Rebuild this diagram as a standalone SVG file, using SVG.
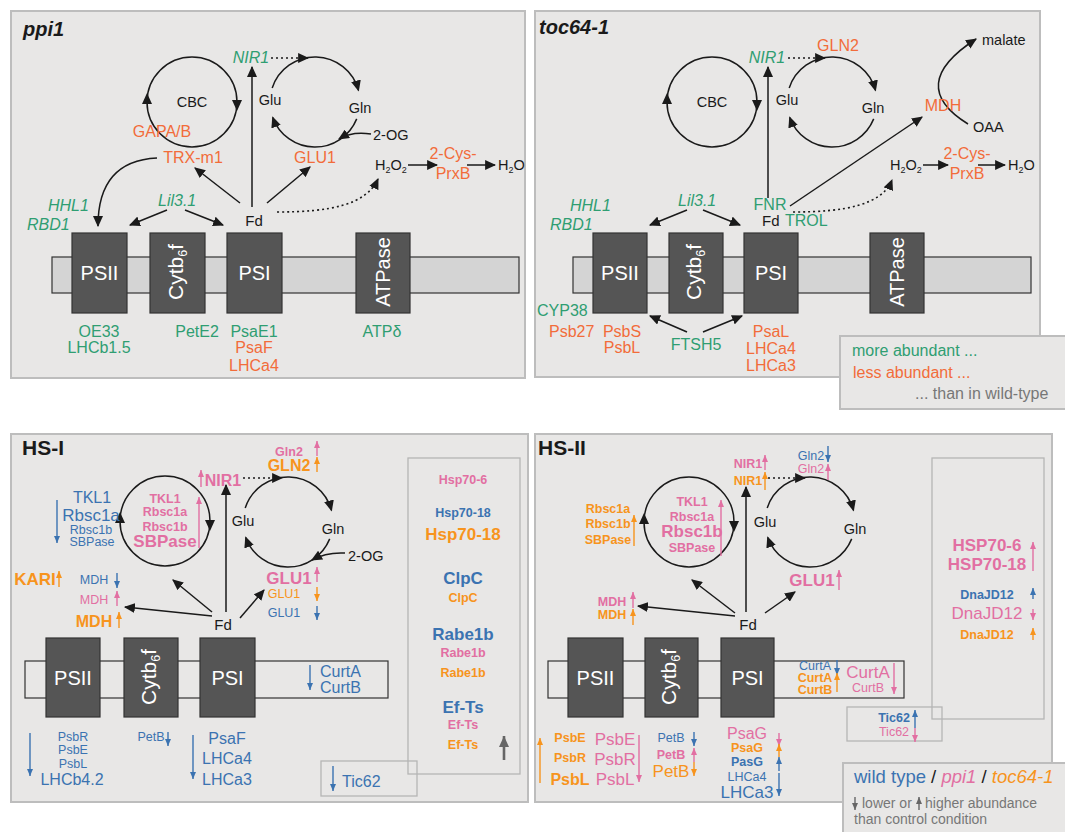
<svg xmlns="http://www.w3.org/2000/svg" width="1065" height="832" viewBox="0 0 1065 832">
<defs>
<style>
text{font-family:"Liberation Sans",Arial,sans-serif}
.pn{fill:#e8e7e6;stroke:#bdbdbd;stroke-width:2}
.ib{fill:none;stroke:#b5b5b5;stroke-width:1.3}
.bx{fill:#555;stroke:#333;stroke-width:1.2}
.mem{fill:#d4d4d4;stroke:#333;stroke-width:1.2}
.mem2{fill:none;stroke:#333;stroke-width:1.2}
.ln{stroke:#1a1a1a;stroke-width:1.5;fill:none;marker-end:url(#ah)}
.cy{stroke:#1a1a1a;stroke-width:1.5;fill:none}
.dt{stroke:#1a1a1a;stroke-width:1.6;fill:none;stroke-dasharray:2 3;marker-end:url(#ah)}
.hd{fill:#1a1a1a}
.g{fill:#2f9e72}.o{fill:#f26c3a}.b{fill:#3b73b1}.p{fill:#e26fa2}.a{fill:#f7941d}.k{fill:#1a1a1a}.w{fill:#fff}.gr{fill:#777}
.bd{font-weight:bold}.it{font-style:italic}.m{text-anchor:middle}
.s9{font-size:9px}.s12{font-size:12.5px}.s14{font-size:14.5px}.s15{font-size:15px}.s16{font-size:16px}.s17{font-size:17px}.s20{font-size:20px}.s21{font-size:21px}
.ab{stroke:#3b73b1;stroke-width:1.4;marker-end:url(#mb)}
.ap{stroke:#e26fa2;stroke-width:1.4;marker-end:url(#mp)}
.ao{stroke:#f7941d;stroke-width:1.4;marker-end:url(#mo)}
.ag{stroke:#666;stroke-width:1.4;marker-end:url(#mg)}
.agL{stroke:#666;stroke-width:2.6;marker-end:url(#mgL)}
</style>
<marker id="ah" viewBox="0 0 10 10" refX="9" refY="5" markerWidth="11" markerHeight="10" markerUnits="userSpaceOnUse" orient="auto" preserveAspectRatio="none"><path d="M0,0L10,5L0,10z" fill="#1a1a1a"/></marker>
<marker id="mb" viewBox="0 0 10 10" refX="10" refY="5" markerWidth="7" markerHeight="6" markerUnits="userSpaceOnUse" orient="auto" preserveAspectRatio="none"><path d="M0,0L10,5L0,10z" fill="#3b73b1"/></marker>
<marker id="mp" viewBox="0 0 10 10" refX="10" refY="5" markerWidth="7" markerHeight="6" markerUnits="userSpaceOnUse" orient="auto" preserveAspectRatio="none"><path d="M0,0L10,5L0,10z" fill="#e26fa2"/></marker>
<marker id="mo" viewBox="0 0 10 10" refX="10" refY="5" markerWidth="7" markerHeight="6" markerUnits="userSpaceOnUse" orient="auto" preserveAspectRatio="none"><path d="M0,0L10,5L0,10z" fill="#f7941d"/></marker>
<marker id="mg" viewBox="0 0 10 10" refX="10" refY="5" markerWidth="7" markerHeight="6" markerUnits="userSpaceOnUse" orient="auto" preserveAspectRatio="none"><path d="M0,0L10,5L0,10z" fill="#666"/></marker>
<marker id="mgL" viewBox="0 0 10 10" refX="10" refY="5" markerWidth="11" markerHeight="10" markerUnits="userSpaceOnUse" orient="auto" preserveAspectRatio="none"><path d="M0,0L10,5L0,10z" fill="#666"/></marker>
</defs>

<!-- ================= PANEL ppi1 ================= -->
<g id="panel-ppi1">
<rect class="pn" x="11" y="11" width="514" height="367"/>
<text x="23" y="36" class="s20 bd it k">ppi1</text>
</g>
<g id="ppi1-cbc">
<circle class="cy" cx="192" cy="102" r="45"/>
<polygon class="hd" points="147,93 142,104 152,104"/>
<polygon class="hd" points="237,111 232,100 242,100"/>
<text x="192" y="107" class="s14 m k">CBC</text>
</g>
<g id="ppi1-glucycle">
<path class="cy" d="M272.2,88.1 A45,45 0 0 1 358.5,90.4" marker-end="url(#ah)"/>
<path class="cy" d="M356.7,118.9 A45,45 0 0 1 272.7,117.4" marker-end="url(#ah)"/>
<text x="270" y="105" class="s14 m k">Glu</text>
<text x="360" y="113" class="s14 m k">Gln</text>
<text x="373" y="140" class="s14 k">2-OG</text>
</g>
<g id="ppi1-labels">
<text x="162" y="137" class="s16 m o">GAPA/B</text>
<text x="193" y="163" class="s16 m o">TRX-m1</text>
<text x="251" y="63" class="s16 m g it">NIR1</text>
<text x="315" y="163" class="s16 m o">GLU1</text>
<text x="375" y="170" class="s14 k">H<tspan class="s9" dy="3">2</tspan><tspan dy="-3">O</tspan><tspan class="s9" dy="3">2</tspan></text>
<text x="453" y="159" class="s16 m o">2-Cys-</text>
<text x="453" y="179" class="s16 m o">PrxB</text>
<text x="498" y="170" class="s14 k">H<tspan class="s9" dy="3">2</tspan><tspan dy="-3">O</tspan></text>
<text x="254" y="226" class="s15 m k">Fd</text>
<text x="48" y="211" class="s16 g it">HHL1</text>
<text x="27" y="230" class="s16 g it">RBD1</text>
<text x="158" y="206" class="s16 g it">Lil3.1</text>
</g>
<g id="ppi1-membrane">
<rect class="mem" x="52" y="257" width="467" height="36"/>
<rect class="bx" x="72" y="233" width="55" height="80"/>
<rect class="bx" x="150" y="233" width="55" height="80"/>
<rect class="bx" x="227" y="233" width="55" height="80"/>
<rect class="bx" x="356" y="233" width="54" height="80"/>
<text x="99.5" y="280" class="s20 m w">PSII</text>
<text transform="translate(183,272) rotate(-90)" class="s21 m w">Cytb<tspan class="s12" dy="4">6</tspan><tspan dy="-4">f</tspan></text>
<text x="254.5" y="280" class="s20 m w">PSI</text>
<text transform="translate(390,272) rotate(-90)" class="s20 m w">ATPase</text>
</g>
<g id="ppi1-below">
<text x="99" y="337" class="s16 m g">OE33</text>
<text x="99" y="353" class="s16 m g">LHCb1.5</text>
<text x="197" y="337" class="s16 m g">PetE2</text>
<text x="254" y="337" class="s16 m g">PsaE1</text>
<text x="254" y="353" class="s16 m o">PsaF</text>
<text x="254" y="371" class="s16 m o">LHCa4</text>
<text x="382" y="337" class="s16 m g">ATPδ</text>
</g>

<!-- ================= PANEL toc64-1 ================= -->
<g id="panel-toc">
<rect class="pn" x="535" y="11" width="505" height="366"/>
<text x="539" y="34" class="s20 bd it k">toc64-1</text>
</g>
<g id="toc-cbc">
<circle class="cy" cx="712" cy="102" r="45"/>
<polygon class="hd" points="667,93 662,104 672,104"/>
<polygon class="hd" points="757,111 752,100 762,100"/>
<text x="712" y="107" class="s14 m k">CBC</text>
</g>
<g id="toc-glucycle">
<path class="cy" d="M789.2,88.1 A45,45 0 0 1 875.5,90.4" marker-end="url(#ah)"/>
<path class="cy" d="M873.7,118.9 A45,45 0 0 1 789.7,117.4" marker-end="url(#ah)"/>
<text x="787" y="105" class="s14 m k">Glu</text>
<text x="873" y="113" class="s14 m k">Gln</text>
</g>
<g id="toc-mdh">
<path class="cy" d="M968,124 Q905,85 976,39" marker-end="url(#ah)"/>
<text x="982" y="45" class="s14 k">malate</text>
<text x="973" y="132" class="s14 k">OAA</text>
<text x="943" y="111" class="s16 m o">MDH</text>
</g>
<g id="toc-labels">
<text x="767" y="63" class="s16 m g it">NIR1</text>
<text x="838" y="51" class="s16 m o">GLN2</text>
<text x="890" y="170" class="s14 k">H<tspan class="s9" dy="3">2</tspan><tspan dy="-3">O</tspan><tspan class="s9" dy="3">2</tspan></text>
<text x="967" y="159" class="s16 m o">2-Cys-</text>
<text x="967" y="179" class="s16 m o">PrxB</text>
<text x="1008" y="170" class="s14 k">H<tspan class="s9" dy="3">2</tspan><tspan dy="-3">O</tspan></text>
<text x="770" y="210" class="s16 m g">FNR</text>
<text x="762" y="226" class="s15 k">Fd</text>
<text x="785" y="226" class="s16 g">TROL</text>
<text x="570" y="211" class="s16 g it">HHL1</text>
<text x="550" y="230" class="s16 g it">RBD1</text>
<text x="678" y="206" class="s16 g it">Lil3.1</text>
</g>
<g id="toc-membrane">
<rect class="mem" x="573" y="257" width="458" height="36"/>
<rect class="bx" x="593" y="233" width="54" height="80"/>
<rect class="bx" x="669" y="233" width="54" height="80"/>
<rect class="bx" x="744" y="233" width="54" height="80"/>
<rect class="bx" x="870" y="233" width="54" height="80"/>
<text x="620" y="280" class="s20 m w">PSII</text>
<text transform="translate(701,272) rotate(-90)" class="s21 m w">Cytb<tspan class="s12" dy="4">6</tspan><tspan dy="-4">f</tspan></text>
<text x="771" y="280" class="s20 m w">PSI</text>
<text transform="translate(904,272) rotate(-90)" class="s20 m w">ATPase</text>
</g>
<g id="toc-below">
<text x="537" y="316" class="s16 g">CYP38</text>
<text x="549" y="337" class="s16 o">Psb27</text>
<text x="622" y="337" class="s16 m o">PsbS</text>
<text x="622" y="353" class="s16 m o">PsbL</text>
<text x="696" y="350" class="s16 m g">FTSH5</text>
<text x="771" y="337" class="s16 m o">PsaL</text>
<text x="771" y="354" class="s16 m o">LHCa4</text>
<text x="771" y="371" class="s16 m o">LHCa3</text>
</g>

<!-- ================= PANEL HS-I ================= -->
<g id="panel-hs1">
<rect class="pn" x="11" y="434" width="517" height="368"/>
<text x="22" y="455" class="s21 bd k">HS-I</text>
</g>
<g id="hs1-cbc">
<circle class="cy" cx="165" cy="521" r="45"/>
<polygon class="hd" points="120,512 115,523 125,523"/>
<polygon class="hd" points="210,531 205,520 215,520"/>
<text x="165" y="503" class="s12 m p bd">TKL1</text>
<text x="165" y="516" class="s12 m p bd">Rbsc1a</text>
<text x="165" y="531" class="s12 m p bd">Rbsc1b</text>
<text x="165" y="547" class="s17 m p bd">SBPase</text>
</g>
<g id="hs1-cbc-left">
<text x="92" y="503" class="s16 m b">TKL1</text>
<text x="91" y="521" class="s17 m b">Rbsc1a</text>
<text x="91" y="534" class="s12 m b">Rbsc1b</text>
<text x="92" y="546" class="s12 m b">SBPase</text>
</g>
<g id="hs1-glucycle">
<path class="cy" d="M245.2,508.1 A45,45 0 0 1 331.5,510.4" marker-end="url(#ah)"/>
<path class="cy" d="M329.7,538.9 A45,45 0 0 1 245.7,537.4" marker-end="url(#ah)"/>
<text x="243" y="526" class="s14 m k">Glu</text>
<text x="333" y="534" class="s14 m k">Gln</text>
<text x="348" y="561" class="s14 k">2-OG</text>
</g>
<g id="hs1-labels">
<text x="223" y="486" class="s16 m p bd">NIR1</text>
<text x="289" y="456" class="s12 m p bd">Gln2</text>
<text x="289" y="471" class="s16 m a bd">GLN2</text>
<text x="289" y="584" class="s17 m p bd">GLU1</text>
<text x="284" y="598" class="s12 m a">GLU1</text>
<text x="284" y="617" class="s12 m b">GLU1</text>
<text x="35" y="585" class="s17 m a bd">KARI</text>
<text x="94" y="584" class="s12 m b">MDH</text>
<text x="94" y="604" class="s12 m p">MDH</text>
<text x="94" y="627" class="s16 m a bd">MDH</text>
<text x="223" y="630" class="s15 m k">Fd</text>
</g>
<g id="hs1-membrane">
<rect class="mem2" x="25" y="661" width="363" height="37"/>
<rect class="bx" x="46" y="638" width="54" height="79"/>
<rect class="bx" x="124" y="638" width="54" height="79"/>
<rect class="bx" x="200" y="638" width="55" height="79"/>
<text x="73" y="685" class="s20 m w">PSII</text>
<text transform="translate(156,677) rotate(-90)" class="s21 m w">Cytb<tspan class="s12" dy="4">6</tspan><tspan dy="-4">f</tspan></text>
<text x="227.5" y="685" class="s20 m w">PSI</text>
<text x="320" y="677" class="s16 b">CurtA</text>
<text x="320" y="693" class="s16 b">CurtB</text>
</g>
<g id="hs1-below">
<text x="73" y="741" class="s12 m b">PsbR</text>
<text x="73" y="754" class="s12 m b">PsbE</text>
<text x="73" y="768" class="s12 m b">PsbL</text>
<text x="72" y="785" class="s16 m b">LHCb4.2</text>
<text x="151" y="741" class="s12 m b">PetB</text>
<text x="227" y="744" class="s16 m b">PsaF</text>
<text x="227" y="764" class="s16 m b">LHCa4</text>
<text x="227" y="785" class="s16 m b">LHCa3</text>
</g>
<g id="hs1-tic62">
<rect class="ib" x="321" y="761" width="96" height="35"/>
<text x="342" y="787" class="s16 b">Tic62</text>
</g>
<g id="hs1-box">
<rect class="ib" x="408" y="458" width="112" height="316"/>
<text x="463" y="484" class="s12 m p bd">Hsp70-6</text>
<text x="463" y="517" class="s12 m b bd">Hsp70-18</text>
<text x="463" y="540" class="s17 m a bd">Hsp70-18</text>
<text x="463" y="584" class="s17 m b bd">ClpC</text>
<text x="463" y="602" class="s12 m a bd">ClpC</text>
<text x="463" y="640" class="s17 m b bd">Rabe1b</text>
<text x="463" y="657" class="s12 m p bd">Rabe1b</text>
<text x="463" y="677" class="s12 m a bd">Rabe1b</text>
<text x="463" y="713" class="s17 m b bd">Ef-Ts</text>
<text x="463" y="729" class="s12 m p bd">Ef-Ts</text>
<text x="463" y="749" class="s12 m a bd">Ef-Ts</text>
</g>

<!-- ================= PANEL HS-II ================= -->
<g id="panel-hs2">
<rect class="pn" x="535" y="434" width="517" height="368"/>
<text x="538" y="455" class="s21 bd k">HS-II</text>
</g>
<g id="hs2-cbc">
<circle class="cy" cx="689" cy="522" r="45"/>
<polygon class="hd" points="644,513 639,524 649,524"/>
<polygon class="hd" points="734,532 729,521 739,521"/>
<text x="692" y="506" class="s12 m p bd">TKL1</text>
<text x="692" y="521" class="s12 m p bd">Rbsc1a</text>
<text x="692" y="537" class="s17 m p bd">Rbsc1b</text>
<text x="692" y="552" class="s12 m p bd">SBPase</text>
</g>
<g id="hs2-cbc-left">
<text x="608" y="513" class="s12 m a bd">Rbsc1a</text>
<text x="608" y="528" class="s12 m a bd">Rbsc1b</text>
<text x="608" y="544" class="s12 m a bd">SBPase</text>
</g>
<g id="hs2-glucycle">
<path class="cy" d="M767.2,508.1 A45,45 0 0 1 853.5,510.4" marker-end="url(#ah)"/>
<path class="cy" d="M851.7,538.9 A45,45 0 0 1 767.7,537.4" marker-end="url(#ah)"/>
<text x="765" y="527" class="s14 m k">Glu</text>
<text x="855" y="534" class="s14 m k">Gln</text>
</g>
<g id="hs2-labels">
<text x="748" y="468" class="s12 m p bd">NIR1</text>
<text x="748" y="485" class="s12 m a bd">NIR1</text>
<text x="811" y="460" class="s12 m b">Gln2</text>
<text x="811" y="473" class="s12 m p">Gln2</text>
<text x="812" y="586" class="s17 m p bd">GLU1</text>
<text x="612" y="606" class="s12 m p bd">MDH</text>
<text x="612" y="619" class="s12 m a bd">MDH</text>
<text x="748" y="630" class="s15 m k">Fd</text>
</g>
<g id="hs2-membrane">
<rect class="mem2" x="548" y="661" width="356" height="37"/>
<rect class="bx" x="568" y="638" width="55" height="79"/>
<rect class="bx" x="645" y="638" width="53" height="79"/>
<rect class="bx" x="721" y="638" width="53" height="79"/>
<text x="595.5" y="685" class="s20 m w">PSII</text>
<text transform="translate(676,677) rotate(-90)" class="s21 m w">Cytb<tspan class="s12" dy="4">6</tspan><tspan dy="-4">f</tspan></text>
<text x="747.5" y="685" class="s20 m w">PSI</text>
<text x="815" y="670" class="s12 m b">CurtA</text>
<text x="815" y="682" class="s12 m a bd">CurtA</text>
<text x="815" y="694" class="s12 m a bd">CurtB</text>
<text x="868" y="678" class="s17 m p">CurtA</text>
<text x="868" y="692" class="s12 m p">CurtB</text>
</g>
<g id="hs2-tic62">
<rect class="ib" x="847" y="707" width="95" height="34"/>
<text x="894" y="722" class="s12 m b bd">Tic62</text>
<text x="894" y="736" class="s12 m p">Tic62</text>
</g>
<g id="hs2-below">
<text x="570" y="742" class="s12 m a bd">PsbE</text>
<text x="570" y="762" class="s12 m a bd">PsbR</text>
<text x="570" y="785" class="s16 m a bd">PsbL</text>
<text x="615" y="745" class="s17 m p">PsbE</text>
<text x="615" y="765" class="s17 m p">PsbR</text>
<text x="615" y="785" class="s17 m p">PsbL</text>
<text x="671" y="742" class="s12 m b">PetB</text>
<text x="671" y="759" class="s12 m p bd">PetB</text>
<text x="671" y="777" class="s17 m a">PetB</text>
<text x="747" y="739" class="s16 m p">PsaG</text>
<text x="747" y="752" class="s12 m a bd">PsaG</text>
<text x="747" y="766" class="s12 m b bd">PasG</text>
<text x="747" y="781" class="s12 m b">LHCa4</text>
<text x="747" y="798" class="s17 m b">LHCa3</text>
</g>
<g id="hs2-box">
<rect class="ib" x="932" y="458" width="112" height="261"/>
<text x="987" y="551" class="s17 m p bd">HSP70-6</text>
<text x="987" y="570" class="s17 m p bd">HSP70-18</text>
<text x="987" y="599" class="s12 m b bd">DnaJD12</text>
<text x="987" y="619" class="s17 m p">DnaJD12</text>
<text x="987" y="639" class="s12 m a bd">DnaJD12</text>
</g>

<!-- ================= CONNECTORS ================= -->
<g id="connectors">
<!-- ppi1 -->
<line class="dt" x1="271" y1="58" x2="308" y2="58"/>
<path class="cy" d="M371,134 Q352,131 339,139" marker-end="url(#ah)"/>
<line class="ln" x1="252" y1="207" x2="252" y2="67"/>
<line class="ln" x1="240" y1="203" x2="195" y2="168"/>
<line class="ln" x1="267" y1="203" x2="310" y2="167"/>
<path class="dt" d="M277,212 C330,212 366,205 378,179"/>
<line class="ln" x1="408" y1="165" x2="437" y2="165"/>
<line class="ln" x1="467" y1="165" x2="495" y2="165"/>
<path class="ln" d="M157,158 C115,160 98,185 98,226"/>
<line class="ln" x1="167" y1="210" x2="130" y2="225"/>
<line class="ln" x1="185" y1="210" x2="223" y2="225"/>
<!-- toc64-1 -->
<line class="dt" x1="788" y1="58" x2="825" y2="58"/>
<line class="ln" x1="768" y1="198" x2="768" y2="67"/>
<line class="ln" x1="790" y1="206" x2="922" y2="117"/>
<path class="dt" d="M793,212 C845,212 882,205 892,180"/>
<line class="ln" x1="923" y1="165" x2="948" y2="165"/>
<line class="ln" x1="978" y1="165" x2="1005" y2="165"/>
<line class="ln" x1="687" y1="210" x2="650" y2="225"/>
<line class="ln" x1="703" y1="210" x2="740" y2="225"/>
<line class="ln" x1="687" y1="332" x2="650" y2="316"/>
<line class="ln" x1="703" y1="332" x2="742" y2="316"/>
<!-- HS-I -->
<line class="dt" x1="243" y1="478" x2="282" y2="478"/>
<path class="cy" d="M345,553 Q326,552 312,560" marker-end="url(#ah)"/>
<line class="ln" x1="226" y1="612" x2="226" y2="485"/>
<line class="ln" x1="240" y1="618" x2="264" y2="590"/>
<line class="ln" x1="212" y1="612" x2="173" y2="580"/>
<line class="ln" x1="212" y1="616" x2="125" y2="607"/>
<!-- HS-II -->
<line class="dt" x1="768" y1="478" x2="805" y2="478"/>
<line class="ln" x1="746" y1="612" x2="746" y2="487"/>
<line class="ln" x1="765" y1="613" x2="795" y2="592"/>
<line class="ln" x1="735" y1="613" x2="692" y2="580"/>
<line class="ln" x1="735" y1="616" x2="638" y2="606"/>
</g>

<!-- ================= ABUNDANCE ARROWS ================= -->
<g id="change-arrows">
<!-- HS-I -->
<line class="ab" x1="57" y1="500" x2="57" y2="543"/>
<line class="ap" x1="199" y1="548" x2="199" y2="497"/>
<line class="ap" x1="201" y1="487" x2="201" y2="470"/>
<line class="ap" x1="317" y1="456" x2="317" y2="441"/>
<line class="ao" x1="317" y1="472" x2="317" y2="457"/>
<line class="ap" x1="317" y1="582" x2="317" y2="567"/>
<line class="ao" x1="317" y1="587" x2="317" y2="601"/>
<line class="ab" x1="317" y1="606" x2="317" y2="620"/>
<line class="ao" x1="59" y1="587" x2="59" y2="571"/>
<line class="ab" x1="117" y1="573" x2="117" y2="588"/>
<line class="ap" x1="117" y1="606" x2="117" y2="591"/>
<line class="ao" x1="119" y1="628" x2="119" y2="612"/>
<line class="ab" x1="310" y1="665" x2="310" y2="690"/>
<line class="ab" x1="30" y1="733" x2="30" y2="776"/>
<line class="ab" x1="168" y1="732" x2="168" y2="746"/>
<line class="ab" x1="193" y1="735" x2="193" y2="779"/>
<line class="ab" x1="333" y1="766" x2="333" y2="791"/>
<line class="agL" x1="504" y1="760" x2="504" y2="736"/>
<!-- HS-II -->
<line class="ao" x1="634" y1="546" x2="634" y2="515"/>
<line class="ap" x1="721" y1="556" x2="721" y2="500"/>
<line class="ap" x1="765" y1="470" x2="765" y2="455"/>
<line class="ao" x1="765" y1="490" x2="765" y2="472"/>
<line class="ab" x1="828" y1="446" x2="828" y2="462"/>
<line class="ap" x1="828" y1="480" x2="828" y2="464"/>
<line class="ap" x1="839" y1="590" x2="839" y2="570"/>
<line class="ap" x1="633" y1="608" x2="633" y2="592"/>
<line class="ao" x1="633" y1="625" x2="633" y2="609"/>
<line class="ab" x1="837" y1="660" x2="837" y2="675"/>
<line class="ao" x1="837" y1="692" x2="837" y2="673"/>
<line class="ap" x1="894" y1="663" x2="894" y2="694"/>
<line class="ab" x1="915" y1="728" x2="915" y2="710"/>
<line class="ap" x1="915" y1="728" x2="915" y2="742"/>
<line class="ao" x1="540" y1="783" x2="540" y2="738"/>
<line class="ap" x1="639" y1="735" x2="639" y2="782"/>
<line class="ab" x1="694" y1="732" x2="694" y2="746"/>
<line class="ap" x1="694" y1="762" x2="694" y2="748"/>
<line class="ao" x1="694" y1="762" x2="694" y2="776"/>
<line class="ap" x1="779" y1="733" x2="779" y2="746"/>
<line class="ao" x1="779" y1="757" x2="779" y2="744"/>
<line class="ab" x1="779" y1="771" x2="779" y2="757"/>
<line class="ab" x1="779" y1="773" x2="779" y2="796"/>
<line class="ap" x1="1033" y1="571" x2="1033" y2="542"/>
<line class="ab" x1="1033" y1="599" x2="1033" y2="588"/>
<line class="ap" x1="1033" y1="609" x2="1033" y2="620"/>
<line class="ao" x1="1033" y1="640" x2="1033" y2="628"/>
</g>

<!-- ================= LEGENDS ================= -->
<g id="legend-top">
<rect class="pn" x="840" y="336" width="240" height="73"/>
<text x="852" y="356" class="s16 g">more abundant ...</text>
<text x="853" y="378" class="s16 o">less abundant ...</text>
<text x="915" y="399" class="s16 gr">... than in wild-type</text>
</g>
<g id="legend-bottom">
<rect class="pn" x="843" y="763" width="240" height="80"/>
<text x="854" y="783" style="font-size:18.5px"><tspan class="b">wild type</tspan><tspan class="k"> / </tspan><tspan class="p it">ppi1</tspan><tspan class="k"> / </tspan><tspan class="a it">toc64-1</tspan></text>
<line class="ag" x1="855" y1="797" x2="855" y2="810"/>
<line class="ag" x1="919" y1="810" x2="919" y2="797"/>
<text x="862" y="808" class="gr" style="font-size:14px">lower or</text>
<text x="925" y="808" class="gr" style="font-size:14px">higher abundance</text>
<text x="854" y="824" class="gr" style="font-size:14px">than control condition</text>
</g>
</svg>
